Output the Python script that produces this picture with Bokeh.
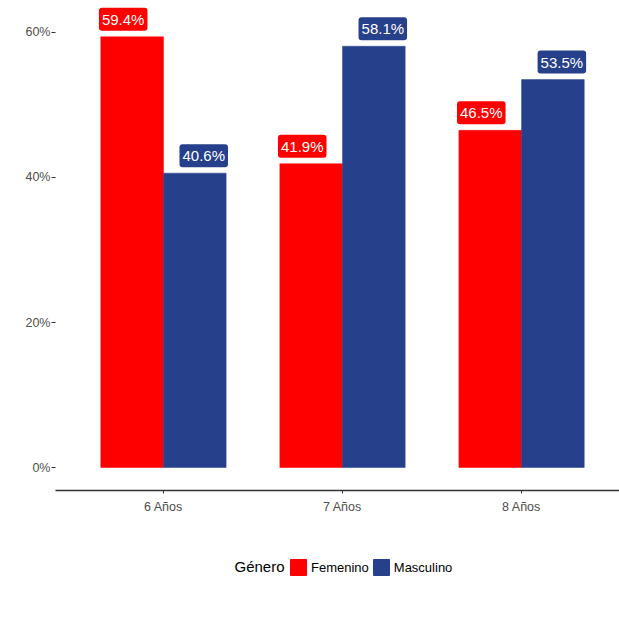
from bokeh.plotting import figure
from bokeh.layouts import column
from bokeh.models import (Range1d, FixedTicker, PrintfTickFormatter, Legend, LegendItem,
                          ColumnDataSource, Label)
from bokeh.transform import dodge
from bokeh.core.properties import value
from bokeh.embed import file_html
from bokeh.resources import INLINE

# Data
edades = ["6 Años", "7 Años", "8 Años"]
femenino = [59.4, 41.9, 46.5]
masculino = [40.6, 58.1, 53.5]
generos = ["Femenino", "Masculino"]

COL_F = "#FF0000"
COL_M = "#27408B"
FONT = "Liberation Sans"

xpos = list(range(1, len(edades) + 1))
src = ColumnDataSource(dict(
    x=xpos,
    fem=femenino,
    mas=masculino,
    fem_lbl=[f"{v:.1f}%" for v in femenino],
    mas_lbl=[f"{v:.1f}%" for v in masculino],
))

p = figure(width=619, height=525,
           x_range=Range1d(0.397, 3.547), y_range=Range1d(-3.17, 63.72),
           output_backend="svg", toolbar_location=None,
           min_border_left=55, min_border_right=0, min_border_top=5,
           min_border_bottom=35)
p.outline_line_color = None
p.xgrid.visible = False
p.ygrid.visible = False
p.background_fill_color = "white"
p.border_fill_color = "white"

# bars
rf = p.vbar(x=dodge("x", -0.175), top="fem", width=0.35, bottom=0, source=src,
            fill_color=COL_F, line_color=COL_F, line_width=0.5)
rm = p.vbar(x=dodge("x", 0.175), top="mas", width=0.35, bottom=0, source=src,
            fill_color=COL_M, line_color=COL_M, line_width=0.5)

# value labels on rounded boxes
for col, lbl, off, c in (("fem", "fem_lbl", -0.225, COL_F), ("mas", "mas_lbl", 0.225, COL_M)):
    p.text(x=dodge("x", off), y=col, text=lbl, source=src,
           text_align="center", text_baseline="bottom", y_offset=-6,
           text_color="white", text_font=value(FONT), text_font_size="15px",
           background_fill_color=c, padding=3, border_radius=3)

# x axis
xa = p.xaxis[0]
xa.ticker = FixedTicker(ticks=xpos)
xa.major_label_overrides = {i: e for i, e in zip(xpos, edades)}
xa.axis_line_color = "#333333"
xa.axis_line_width = 1.3
xa.major_tick_line_color = "#333333"
xa.major_tick_out = 3
xa.major_tick_in = 0
xa.minor_tick_line_color = None
xa.major_label_text_font = FONT
xa.major_label_text_font_size = "12.5px"
xa.major_label_text_color = "#4d4d4d"
xa.major_label_standoff = 6

# y axis
ya = p.yaxis[0]
ya.ticker = FixedTicker(ticks=[0, 20, 40, 60])
ya.formatter = PrintfTickFormatter(format="%d%%")
ya.axis_line_color = None
ya.major_tick_line_color = "#333333"
ya.major_tick_out = 4
ya.major_tick_in = 0
ya.minor_tick_line_color = None
ya.major_label_text_font = FONT
ya.major_label_text_font_size = "12.5px"
ya.major_label_text_color = "#4d4d4d"
ya.major_label_standoff = 1

# legend strip below the chart (its frame lines up with the chart frame)
lg = figure(width=619, height=100, x_range=Range1d(0, 4), y_range=Range1d(100, 101),
            output_backend="svg", toolbar_location=None,
            x_axis_location=None, y_axis_location=None,
            min_border_left=55, min_border_right=0, min_border_top=0, min_border_bottom=0)
lg.grid.visible = False
lg.outline_line_color = None
# swatch renderers share the data but sit below this strip's visible range
sw_f = lg.vbar(x="x", top="fem", width=0.35, source=src, fill_color=COL_F, line_color=COL_F)
sw_m = lg.vbar(x="x", top="mas", width=0.35, source=src, fill_color=COL_M, line_color=COL_M)

legend = Legend(items=[LegendItem(label=generos[0], renderers=[sw_f]),
                       LegendItem(label=generos[1], renderers=[sw_m])],
                orientation="horizontal", location=(233, 48),
                label_text_font=FONT, label_text_font_size="13px",
                label_text_color="black", label_standoff=3,
                glyph_width=20, glyph_height=20, spacing=2,
                padding=0, margin=0, border_line_color=None,
                background_fill_alpha=0)
lg.add_layout(legend, "center")
lg.add_layout(Label(x=229, y=59, x_units="screen", y_units="screen", text="Género",
                    text_align="right", text_baseline="middle",
                    text_font=FONT, text_font_size="15px", text_color="black"))

layout = column(p, lg, spacing=0)
open("out.html", "w").write(file_html(layout, INLINE))
